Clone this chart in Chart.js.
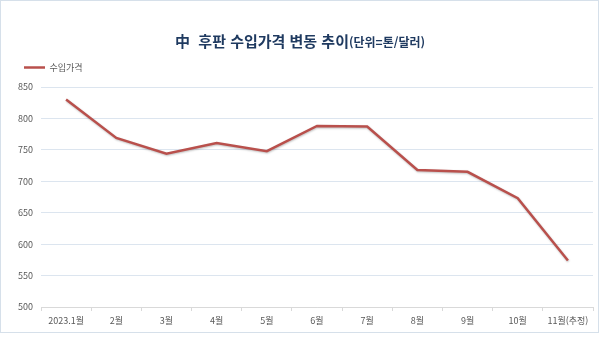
<!DOCTYPE html>
<html lang="ko">
<head>
<meta charset="utf-8">
<title>中 후판 수입가격 변동 추이</title>
<script src="https://cdn.jsdelivr.net/npm/chart.js@4.4.1/dist/chart.umd.min.js"></script>
<style>
  html, body { margin: 0; padding: 0; background: #fff; }
  #wrap { position: relative; width: 600px; height: 338px; overflow: hidden; }
  #frame {
    position: absolute; left: 0; top: 0; width: 597px; height: 331px;
    border: 1px solid #d6e0ea; pointer-events: none;
  }
  #title {
    position: absolute; left: 0; top: 30px; width: 600px; text-align: center;
    font-family: "Noto Sans CJK KR", "Noto Sans", sans-serif; font-weight: bold;
    color: #1f3a60; white-space: pre; line-height: 20px;
  }
  #title .main { font-size: 15px; }
  #title .unit { font-size: 12px; }
  canvas { position: absolute; left: 0; top: 0; }
</style>
</head>
<body>
<div id="wrap">
  <canvas id="priceChart" width="600" height="338"></canvas>
  <div id="frame"></div>
  <div id="title"><span class="main">中  후판 수입가격 변동 추이</span><span class="unit">(단위=톤/달러)</span></div>
</div>
<script>
// 월별 수입가격 (톤당 달러)
const months = ["2023.1월", "2월", "3월", "4월", "5월", "6월", "7월", "8월", "9월", "10월", "11월(추정)"];
const importPrice = [830, 769, 744, 761, 748, 788, 787, 718, 715, 673, 574];
const seriesName = "수입가격";

const yMin = 500;
const yMax = 850;
const yStep = 50;

const FONT = "'Noto Sans CJK KR', 'Noto Sans', sans-serif";
const labelColor = "#595959";
const legendHeight = 40;

// 선에 살짝 그림자
const lineShadow = {
  id: "lineShadow",
  beforeDatasetDraw(chart) {
    const ctx = chart.ctx;
    ctx.save();
    ctx.shadowColor = "rgba(0,0,0,0.25)";
    ctx.shadowBlur = 2;
    ctx.shadowOffsetX = 0.5;
    ctx.shadowOffsetY = 1;
  },
  afterDatasetDraw(chart) {
    chart.ctx.restore();
  }
};

// 범례 영역 높이 고정
const fixedLegend = {
  id: "fixedLegend",
  beforeLayout(chart) {
    const legend = chart.legend;
    if (!legend || legend._fixed) return;
    const fit = legend.fit;
    legend.fit = function () {
      fit.call(this);
      this.height = legendHeight;
    };
    legend._fixed = true;
  }
};

const ctx = document.getElementById("priceChart").getContext("2d");
new Chart(ctx, {
  type: "line",
  data: {
    labels: months,
    datasets: [
      {
        label: seriesName,
        data: importPrice,
        borderColor: "#b9504c",
        backgroundColor: "#b9504c",
        borderWidth: 2.5,
        tension: 0,
        pointRadius: 0,
        fill: false
      }
    ]
  },
  options: {
    responsive: false,
    animation: false,
    layout: { padding: { top: 47, left: 8, right: 7, bottom: 11 } },
    plugins: {
      title: { display: false },
      tooltip: { enabled: false },
      legend: {
        display: true,
        position: "top",
        align: "start",
        labels: {
          usePointStyle: true,
          pointStyle: "line",
          pointStyleWidth: 21,
          boxHeight: 9,
          padding: 16,
          color: labelColor,
          font: { family: FONT, size: 9 }
        }
      }
    },
    scales: {
      x: {
        offset: true,
        afterFit(scale) { scale.height = 20; },
        grid: {
          display: true,
          offset: true,
          drawOnChartArea: false,
          drawTicks: true,
          tickLength: 4,
          color: "#d9d9d9"
        },
        border: { display: true, color: "#d9d9d9" },
        ticks: {
          color: labelColor,
          font: { family: FONT, size: 9 },
          padding: 4,
          maxRotation: 0,
          autoSkip: false
        }
      },
      y: {
        min: yMin,
        max: yMax,
        afterFit(scale) { scale.width = 33; },
        grid: { color: "#dce5ef", drawTicks: false, lineWidth: 1 },
        border: { display: false },
        ticks: {
          stepSize: yStep,
          color: labelColor,
          font: { family: FONT, size: 9 },
          padding: 8
        }
      }
    }
  },
  plugins: [lineShadow, fixedLegend]
});
</script>
</body>
</html>
